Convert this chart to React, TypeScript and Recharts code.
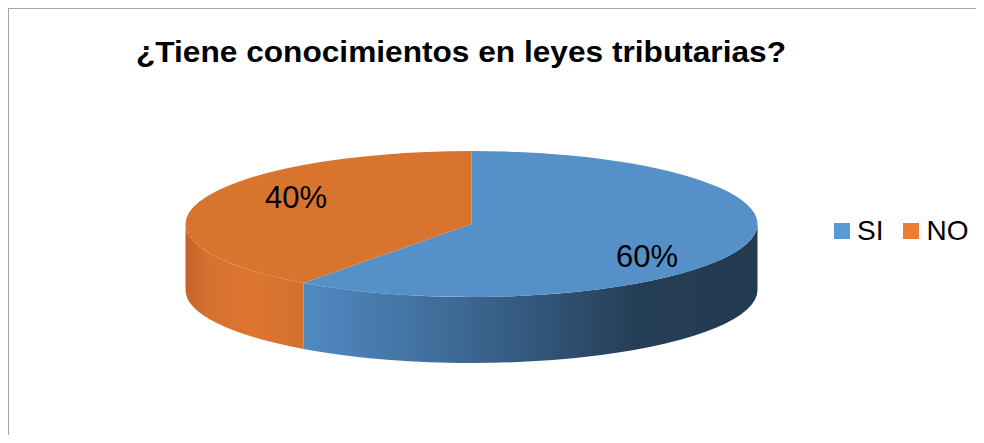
import { PieChart, Pie, Cell, Legend } from 'recharts';

const CATEGORIES = ['SI', 'NO'];
const VALUES = [60, 40];
const TOP_COLORS = ['#5590c8', '#d9742f'];
const LEGEND_COLORS = ['#5b9bd5', '#ed7d31'];

const TITLE = '¿Tiene conocimientos en leyes tributarias?';

const data = CATEGORIES.map((name, i) => ({ name, value: VALUES[i] }));

const W = 975;
const H = 434;
const FONT = "'Liberation Sans', Arial, sans-serif";
const RAD = Math.PI / 180;
const TILT = 0.255; // vertical squash of the ellipse
const DEPTH = 66; // thickness of the disc

// wall gradients, left to right across the full width of the pie
const WALL_STOPS = [
  [
    [0, '#4f88c1'],
    [0.215, '#5089c2'],
    [0.5, '#3c6690'],
    [0.79, '#253e57'],
    [1, '#233a50'],
  ],
  [
    [0, '#c4632a'],
    [0.04, '#d6712e'],
    [0.12, '#dc7530'],
    [0.215, '#d3702d'],
    [1, '#d3702d'],
  ],
];

function Sector3D(props: any) {
  const { cx, cy, outerRadius, startAngle, endAngle, index } = props;
  const rx = outerRadius;
  const ry = outerRadius * TILT;
  const pt = (a: number, dy = 0) =>
    `${cx + rx * Math.cos(a * RAD)},${cy - ry * Math.sin(a * RAD) + dy}`;

  const lo = Math.min(startAngle, endAngle);
  const hi = Math.max(startAngle, endAngle);
  const large = hi - lo > 180 ? 1 : 0;
  const top = `M${cx},${cy} L${pt(hi)} A${rx},${ry} 0 ${large} 1 ${pt(lo)} Z`;

  // visible (front) part of the outer wall
  const walls: string[] = [];
  for (let k = -2; k <= 1; k++) {
    const a1 = Math.max(lo, -180 + 360 * k);
    const a2 = Math.min(hi, 360 * k);
    if (a2 - a1 > 0.01) {
      walls.push(
        `M${pt(a2)} A${rx},${ry} 0 0 1 ${pt(a1)} L${pt(a1, DEPTH)} A${rx},${ry} 0 0 0 ${pt(a2, DEPTH)} Z`
      );
    }
  }
  const gid = `wall-${index}`;
  return (
    <g>
      <defs>
        <linearGradient id={gid} gradientUnits="userSpaceOnUse" x1={cx - rx} y1={0} x2={cx + rx} y2={0}>
          {WALL_STOPS[index % WALL_STOPS.length].map(([o, c]) => (
            <stop key={o as number} offset={o as number} stopColor={c as string} />
          ))}
        </linearGradient>
      </defs>
      {walls.map((d, i) => (
        <path key={i} d={d} fill={`url(#${gid})`} stroke="none" />
      ))}
      <path d={top} fill={TOP_COLORS[index % TOP_COLORS.length]} stroke="none" />
    </g>
  );
}

function renderLabel(props: any) {
  const { cx, cy, midAngle, outerRadius, percent } = props;
  const x = cx + outerRadius * 0.645 * Math.cos(midAngle * RAD);
  const y = cy + 3 - outerRadius * TILT * 1.3 * Math.sin(midAngle * RAD);
  return (
    <text x={x} y={y} textAnchor="middle" dominantBaseline="central" fontSize={31} fontFamily={FONT} fill="#000">
      {`${Math.round(percent * 100)}%`}
    </text>
  );
}

function LegendContent({ payload }: any) {
  const items = [...(payload || [])].sort(
    (a: any, b: any) => CATEGORIES.indexOf(a.value) - CATEGORIES.indexOf(b.value)
  );
  return (
    <div style={{ display: 'flex', alignItems: 'center', fontFamily: FONT, fontSize: 28 }}>
      {items.map((entry: any, i: number) => (
        <div key={entry.value} style={{ display: 'flex', alignItems: 'center', marginRight: i === 0 ? 20 : 0 }}>
          <div
            style={{
              width: 16,
              height: 16,
              backgroundColor: LEGEND_COLORS[CATEGORIES.indexOf(entry.value)],
              marginRight: 7,
            }}
          />
          <span style={{ color: '#000', lineHeight: '32px', whiteSpace: 'nowrap' }}>{entry.value}</span>
        </div>
      ))}
    </div>
  );
}

export default function App() {
  return (
    <div
      style={{
        position: 'relative',
        width: W,
        height: H,
        marginBottom: -8,
        borderTop: '1px solid #a6a6a6',
        borderLeft: '1px solid #a6a6a6',
      }}
    >
      <PieChart width={W} height={H} margin={{ top: 0, right: 0, bottom: 0, left: 0 }}>
        <text
          x={127}
          y={53}
          fontSize={29}
          fontWeight="bold"
          fontFamily={FONT}
          fill="#000"
          textLength={650}
          lengthAdjust="spacingAndGlyphs"
        >
          {TITLE}
        </text>
        <Pie
          data={data}
          dataKey="value"
          nameKey="name"
          cx={462.5}
          cy={215}
          outerRadius={286}
          startAngle={90}
          endAngle={-270}
          stroke="none"
          shape={Sector3D}
          label={renderLabel}
          labelLine={false}
          isAnimationActive={false}
        >
          {data.map((d, i) => (
            <Cell key={d.name} fill={LEGEND_COLORS[i]} />
          ))}
        </Pie>
        <Legend
          content={<LegendContent />}
          wrapperStyle={{ position: 'absolute', left: 825, top: 206, width: 'auto', height: 'auto' }}
        />
      </PieChart>
    </div>
  );
}
